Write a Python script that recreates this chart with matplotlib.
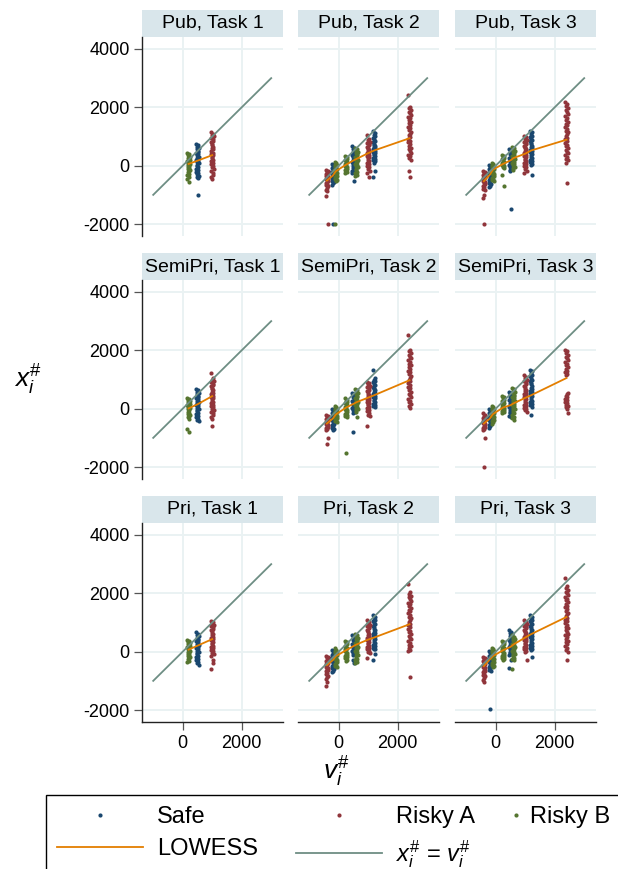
import matplotlib
matplotlib.use('Agg')
import matplotlib.pyplot as plt
from matplotlib.lines import Line2D
from matplotlib.patches import Rectangle

plt.rcParams['font.family'] = ['Liberation Sans', 'DejaVu Sans']
plt.rcParams['mathtext.fontset'] = 'custom'
plt.rcParams['mathtext.rm'] = 'Liberation Sans'
plt.rcParams['mathtext.it'] = 'Liberation Sans:italic'
plt.rcParams['axes.unicode_minus'] = False

# Stata s2color-like colours
NAVY = '#1A476F'
MAROON = '#90353B'
GREEN = '#55752F'
ORANGE = '#E37E00'
TEAL = '#6E8E84'
STRIP = '#D9E6EB'
GRID = '#EAF2F3'

row_names = ['Pub', 'SemiPri', 'Pri']
task_names = ['Task 1', 'Task 2', 'Task 3']
xticks = [0, 2000]
yticks = [-2000, 0, 2000, 4000]
diag_v = [-1000, 3000]

# small horizontal spread of the dots inside one option column
jitter = [-40, 25, -10, 45, -30, 10, 35, -45, 5, -20, 40, -5, 30, -35, 15, -25, 42, 0, -15, 20, -42, 28]

# ---- Pub ----
pub_t1_safe = [(500, [740, 700, 655, 610, 560, 520, 470, 430, 395, 350, 310, 270, 235, 190, 150, 110, 75, 30, -10, -55, -100, -150, -200, -250, -300, -345, -390, -430, -1000])]
pub_t1_riskyA = [(1000, [1140, 1095, 1050, 1000, 955, 900, 850, 800, 745, 700, 650, 600, 555, 500, 450, 400, 350, 300, 255, 200, 150, 100, 55, 0, -60, -120, -180, -250, -320, -390, -450])]
pub_t1_riskyB = [(200, [440, 400, 350, 310, 270, 240, 200, 165, 130, 100, 70, 35, 0, -30, -70, -110, -150, -190, -230, -280, -330, -390, -450, -550])]
pub_t1_lowess = ([200, 500, 1000], [60, 170, 360])

pub_t2_safe = [(-200, [60, 25, -10, -50, -90, -125, -165, -200, -240, -275, -315, -350, -390, -430, -470, -515, -560, -610, -650, -1990]),
               (500, [660, 615, 565, 520, 480, 440, 400, 360, 325, 285, 250, 210, 175, 140, 100, 60, 20, -20, -70, -120, -170, -220, -250, -510]),
               (1200, [1190, 1120, 1060, 1005, 950, 900, 855, 805, 760, 720, 680, 640, 600, 560, 520, 480, 440, 400, 360, 320, 280, 240, 195, 150, 90, -170, -375])]
pub_t2_riskyA = [(-400, [-135, -170, -205, -240, -270, -305, -340, -370, -405, -440, -470, -505, -540, -580, -620, -660, -705, -760, -820, -875, -1045, -1990]),
                 (1000, [1060, 920, 870, 825, 780, 740, 700, 655, 620, 580, 540, 500, 460, 420, 380, 340, 300, 250, 200, 150, 100, 50, 0, -60, -130, -190, -250, -400]),
                 (2400, [2420, 2020, 1960, 1905, 1850, 1790, 1735, 1680, 1620, 1560, 1505, 1450, 1390, 1330, 1275, 1220, 1160, 1100, 1040, 985, 920, 860, 800, 740, 680, 620, 560, 500, 440, 380, 320, 260, 200, -190, -400])]
pub_t2_riskyB = [(-100, [110, 80, 40, 10, -30, -70, -100, -140, -180, -220, -260, -300, -340, -380, -420, -460, -500, -530, -1990]),
                 (250, [340, 300, 260, 220, 180, 140, 110, 70, 30, 0, -40, -80, -120, -160, -210, -250]),
                 (600, [600, 560, 510, 470, 430, 390, 350, 310, 270, 230, 190, 150, 110, 70, 30, -10, -60, -110, -160, -210, -260, -310, -360])]
pub_t2_lowess = ([-400, -200, -100, 250, 500, 600, 1000, 1200, 2400], [-510, -340, -190, 35, 180, 230, 430, 520, 940])

pub_t3_safe = [(-200, [35, 0, -40, -80, -120, -160, -200, -240, -285, -325, -370, -410, -450, -490, -535, -580, -630, -680, -730]),
               (500, [570, 530, 485, 445, 400, 360, 320, 280, 240, 200, 160, 120, 80, 40, 0, -50, -100, -150, -190, -1500]),
               (1200, [1200, 1140, 1085, 1030, 980, 930, 880, 830, 785, 740, 690, 645, 600, 550, 500, 455, 410, 360, 310, 260, 210, 160, 110, 70, 35, -310])]
pub_t3_riskyA = [(-400, [-170, -205, -240, -280, -315, -350, -390, -430, -470, -510, -550, -590, -630, -680, -730, -790, -840, -990, -1100, -1990]),
                 (1000, [1020, 970, 920, 870, 825, 780, 735, 690, 645, 600, 555, 510, 465, 420, 380, 335, 290, 245, 200, 150, 100, 50, 0, -60, -120, -190, -250]),
                 (2400, [2190, 2120, 2050, 1980, 1900, 1830, 1760, 1700, 1640, 1570, 1500, 1440, 1380, 1320, 1260, 1200, 1140, 1080, 1020, 960, 900, 840, 780, 720, 660, 600, 540, 480, 420, 360, 300, 240, 180, 90, -590])]
pub_t3_riskyB = [(-100, [90, 55, 20, -20, -55, -95, -130, -170, -210, -250, -290, -330, -370, -410, -450, -490, -530]),
                 (250, [375, 335, 295, 260, 220, 180, 140, 100, 60, 20, -20, -55, -80, -310, -690]),
                 (600, [640, 595, 550, 505, 460, 420, 380, 340, 300, 260, 220, 180, 140, 100, 60, 20, -30, -80, -140])]
pub_t3_lowess = ([-400, -200, -100, 250, 500, 600, 1000, 1200, 2400], [-530, -310, -140, 60, 180, 260, 410, 520, 890])

# ---- SemiPri ----
semi_t1_safe = [(500, [670, 625, 580, 535, 490, 445, 400, 360, 320, 280, 240, 200, 160, 120, 80, 40, 0, -45, -90, -140, -190, -240, -290, -340, -390, -430])]
semi_t1_riskyA = [(1000, [1220, 1050, 1000, 955, 905, 860, 810, 765, 720, 675, 630, 585, 540, 495, 450, 405, 360, 315, 270, 225, 180, 135, 90, 45, 0, -50, -100, -160, -220, -280, -340, -600])]
semi_t1_riskyB = [(200, [380, 340, 300, 265, 225, 190, 150, 115, 80, 45, 10, -25, -60, -100, -140, -180, -220, -260, -300, -340, -680, -800])]
semi_t1_lowess = ([200, 500, 1000], [10, 150, 430])

semi_t2_safe = [(-200, [0, -40, -80, -120, -160, -200, -245, -290, -335, -380, -425, -470, -515, -560, -605, -650, -695, -740]),
                (500, [550, 510, 470, 430, 390, 350, 310, 270, 230, 190, 150, 110, 70, 30, -10, -55, -100, -165, -800]),
                (1200, [1320, 1050, 1000, 950, 900, 850, 805, 760, 715, 670, 625, 580, 535, 490, 445, 400, 355, 310, 265, 220, 175, 130, 90, 60])]
semi_t2_riskyA = [(-400, [-200, -235, -270, -305, -340, -375, -410, -445, -480, -515, -550, -590, -630, -670, -705, -740, -1000, -1225]),
                  (1000, [920, 875, 830, 785, 740, 695, 650, 605, 560, 515, 470, 425, 380, 335, 290, 245, 200, 155, 110, 65, 20, -30, -80, -140, -200, -255, -600]),
                  (2400, [2540, 2020, 1960, 1900, 1840, 1780, 1720, 1660, 1600, 1540, 1480, 1420, 1360, 1300, 1240, 1180, 1120, 1060, 1000, 940, 880, 820, 760, 700, 640, 580, 520, 460, 400, 340, 280, 220, 160, 100, 30])]
semi_t2_riskyB = [(-100, [100, 65, 30, -5, -40, -75, -110, -145, -180, -215, -250, -285, -320, -355, -390, -420, -450]),
                  (250, [350, 310, 270, 230, 190, 150, 110, 70, 30, -10, -50, -90, -130, -170, -210, -245, -280, -1510]),
                  (600, [670, 625, 580, 535, 490, 445, 400, 355, 310, 270, 230, 190, 150, 110, 70, 30, -10, -60, -110, -300])]
semi_t2_lowess = ([-400, -200, -100, 250, 500, 600, 1000, 1200, 2400], [-510, -340, -200, 40, 165, 220, 380, 460, 975])

semi_t3_safe = [(-200, [0, -40, -80, -120, -160, -200, -240, -285, -330, -375, -420, -465, -510, -555, -605, -655]),
                (500, [575, 530, 490, 450, 410, 370, 330, 290, 250, 210, 170, 130, 90, 50, 10, -30, -75, -120, -165, -210, -255, -300]),
                (1200, [1340, 1280, 1220, 1160, 1105, 1050, 995, 940, 885, 830, 775, 720, 665, 610, 555, 500, 445, 390, 335, 280, 225, 170, 115, 60, -200])]
semi_t3_riskyA = [(-400, [-165, -200, -235, -270, -305, -340, -380, -420, -460, -500, -540, -580, -620, -660, -700, -740, -1000, -1990]),
                  (1000, [1145, 1090, 1040, 990, 940, 890, 840, 790, 740, 690, 640, 590, 540, 490, 440, 390, 340, 290, 240, 190, 140, 90, 40, -10, -60, -110]),
                  (2400, [2020, 1960, 1900, 1840, 1780, 1720, 1660, 1600, 1540, 1480, 1420, 1360, 1300, 1250, 1200, 1145, 540, 490, 440, 390, 340, 290, 240, 190, 140, 90, 45, 0, -165])]
semi_t3_riskyB = [(-100, [100, 60, 20, -20, -60, -100, -140, -180, -220, -260, -300, -340, -380, -420, -465, -510]),
                  (250, [430, 390, 350, 310, 270, 230, 190, 150, 110, 70, 30, -10, -50, -90, -130, -165]),
                  (600, [720, 670, 620, 575, 530, 485, 440, 395, 350, 305, 260, 215, 170, 125, 80, 35, -10, -60, -110, -160, -220, -280, -330, -390])]
semi_t3_lowess = ([-400, -200, -100, 250, 500, 600, 1000, 1200, 2400], [-510, -340, -190, 40, 120, 180, 370, 460, 1050])

# ---- Pri ----
pri_t1_safe = [(500, [660, 615, 570, 525, 480, 440, 400, 360, 320, 280, 240, 200, 160, 120, 80, 40, 0, -45, -90, -140, -190, -240, -290, -340, -395, -450])]
pri_t1_riskyA = [(1000, [1060, 1015, 970, 925, 880, 835, 790, 745, 700, 655, 610, 565, 520, 475, 430, 385, 340, 295, 250, 205, 160, 115, 70, 25, -30, -80, -150, -280, -400, -610])]
pri_t1_riskyB = [(200, [400, 360, 320, 285, 250, 215, 180, 145, 110, 75, 40, 5, -30, -65, -100, -140, -180, -220, -260, -310, -360])]
pri_t1_lowess = ([200, 500, 1000], [70, 205, 430])

pri_t2_safe = [(-200, [50, 10, -30, -70, -110, -150, -190, -230, -270, -310, -350, -390, -430, -475, -520, -565, -610, -650, -690]),
               (500, [560, 520, 480, 440, 400, 360, 320, 280, 240, 200, 160, 120, 80, 40, 0, -40, -80, -120, -290, -400]),
               (1200, [1245, 1190, 1140, 1090, 1040, 990, 940, 890, 840, 790, 740, 690, 640, 590, 540, 490, 440, 390, 340, 290, 240, 190, 140, 100, 75, -85, -290])]
pri_t2_riskyA = [(-400, [-150, -190, -230, -270, -310, -350, -390, -430, -470, -510, -550, -590, -630, -675, -720, -770, -820, -880, -950, -1030, -1175]),
                 (1000, [1075, 1025, 975, 930, 885, 840, 795, 750, 705, 660, 615, 570, 525, 480, 435, 390, 345, 300, 255, 210, 165, 120, 75, 30, -10, -40, -200]),
                 (2400, [2325, 2040, 1980, 1920, 1860, 1800, 1740, 1680, 1620, 1560, 1500, 1440, 1380, 1320, 1260, 1200, 1140, 1080, 1020, 960, 900, 840, 780, 720, 660, 600, 540, 480, 420, 360, 300, 240, 180, 120, 60, 15, -880])]
pri_t2_riskyB = [(-100, [110, 70, 30, -10, -50, -90, -130, -170, -210, -250, -290, -330, -370, -410, -450, -490, -520]),
                 (250, [370, 330, 290, 250, 210, 170, 130, 90, 50, 10, -30, -70, -110, -150, -190, -230, -280, -325]),
                 (600, [620, 575, 530, 485, 440, 395, 350, 305, 260, 215, 170, 125, 80, 35, -10, -55, -100, -150, -200, -250, -300, -350, -400])]
pri_t2_lowess = ([-400, -200, -100, 250, 500, 600, 1000, 1200, 2400], [-460, -290, -155, 50, 190, 245, 415, 485, 940])

pri_t3_safe = [(-200, [20, -20, -60, -100, -140, -180, -220, -265, -310, -355, -400, -445, -490, -535, -580, -615, -650, -1970]),
               (500, [730, 685, 640, 595, 550, 505, 460, 415, 370, 325, 280, 240, 200, 160, 120, 80, 40, 0, -40, -80, -120, -290, -570]),
               (1200, [1245, 1190, 1140, 1090, 1040, 990, 940, 890, 840, 790, 740, 690, 640, 590, 540, 490, 440, 390, 340, 290, 240, 190, 140, 95, 50, -175])]
pri_t3_riskyA = [(-400, [-175, -215, -255, -295, -335, -375, -415, -455, -495, -535, -575, -615, -660, -705, -750, -800, -850, -900, -960, -1030]),
                 (1000, [1075, 1030, 985, 940, 895, 850, 805, 760, 715, 670, 625, 580, 535, 490, 445, 400, 355, 310, 265, 220, 175, 130, 85, 40, -5, -270]),
                 (2400, [2530, 2235, 2175, 2115, 2055, 1995, 1935, 1875, 1815, 1755, 1695, 1635, 1575, 1515, 1455, 1395, 1335, 1275, 1215, 1155, 1095, 1035, 975, 915, 855, 795, 735, 675, 615, 555, 495, 435, 375, 315, 255, 195, 135, 70, 0, -270])]
pri_t3_riskyB = [(-100, [140, 100, 60, 20, -20, -60, -100, -140, -180, -220, -260, -300, -340, -380, -420, -460, -500, -540]),
                 (250, [370, 330, 290, 250, 210, 170, 130, 90, 50, 10, -30, -70, -110, -150, -190, -230, -260, -290]),
                 (600, [560, 520, 480, 440, 400, 360, 320, 280, 240, 200, 160, 120, 80, 40, 0, -40, -80, -120, -160, -200, -245, -290, -610])]
pri_t3_lowess = ([-400, -200, -100, 250, 500, 600, 1000, 1200, 2400], [-495, -265, -155, 50, 165, 245, 485, 600, 1190])

panels = [
    [(pub_t1_safe, pub_t1_riskyA, pub_t1_riskyB, pub_t1_lowess),
     (pub_t2_safe, pub_t2_riskyA, pub_t2_riskyB, pub_t2_lowess),
     (pub_t3_safe, pub_t3_riskyA, pub_t3_riskyB, pub_t3_lowess)],
    [(semi_t1_safe, semi_t1_riskyA, semi_t1_riskyB, semi_t1_lowess),
     (semi_t2_safe, semi_t2_riskyA, semi_t2_riskyB, semi_t2_lowess),
     (semi_t3_safe, semi_t3_riskyA, semi_t3_riskyB, semi_t3_lowess)],
    [(pri_t1_safe, pri_t1_riskyA, pri_t1_riskyB, pri_t1_lowess),
     (pri_t2_safe, pri_t2_riskyA, pri_t2_riskyB, pri_t2_lowess),
     (pri_t3_safe, pri_t3_riskyA, pri_t3_riskyB, pri_t3_lowess)],
]


def draw_clusters(ax, clusters, color):
    for v, ys in clusters:
        xs = [v + jitter[k % len(jitter)] for k in range(len(ys))]
        ax.plot(xs, ys, 'o', color=color, markersize=3.0, markeredgewidth=0, zorder=3)


W, H = 618.0, 869.0
fig = plt.figure(figsize=(W / 100, H / 100), dpi=100)

col_left = [142, 298, 455]
row_top = [37, 280, 523]
pw, ph = 141, 199
strip_h = 27

for r in range(3):
    for c in range(3):
        ax = fig.add_axes([col_left[c] / W, 1 - (row_top[r] + ph) / H, pw / W, ph / H])
        safe, riskyA, riskyB, low = panels[r][c]
        draw_clusters(ax, safe, NAVY)
        draw_clusters(ax, riskyA, MAROON)
        draw_clusters(ax, riskyB, GREEN)
        ax.plot(low[0], low[1], color=ORANGE, lw=1.3, zorder=4)
        ax.plot(diag_v, diag_v, color=TEAL, lw=1.3, zorder=5)

        ax.set_xlim(-1380, 3400)
        ax.set_ylim(-2410, 4410)
        ax.set_xticks(xticks)
        ax.set_yticks(yticks)
        ax.grid(True, color=GRID, lw=1.4, zorder=0)
        ax.set_axisbelow(True)
        for s in ['top', 'right']:
            ax.spines[s].set_visible(False)
        ax.spines['left'].set_visible(c == 0)
        ax.spines['bottom'].set_visible(r == 2)
        for s in ['left', 'bottom']:
            ax.spines[s].set_linewidth(1.0)
            ax.spines[s].set_color('#222222')
        ax.tick_params(axis='y', length=6 if c == 0 else 0, width=0.9, color='#555555',
                       labelleft=(c == 0), labelsize=13, pad=3)
        ax.tick_params(axis='x', length=6 if r == 2 else 0, width=0.9, color='#555555',
                       labelbottom=(r == 2), labelsize=13, pad=3)

        # strip title
        ax.add_patch(Rectangle((0, 1), 1, strip_h / ph, transform=ax.transAxes,
                               facecolor=STRIP, edgecolor='none', clip_on=False))
        ax.text(0.5, 1 + strip_h / 2 / ph, row_names[r] + ', ' + task_names[c],
                transform=ax.transAxes, ha='center', va='center', fontsize=14)

fig.text(28 / W, 1 - 380 / H, r'$x_i^{\#}$', fontsize=19, ha='center', va='center')
fig.text(336 / W, 1 - 772 / H, r'$v_i^{\#}$', fontsize=19, ha='center', va='center')

# legend frame
fig.patches.append(Rectangle((46 / W, -0.01), 0.95, 1 - 795 / H + 0.01, transform=fig.transFigure,
                             facecolor='white', edgecolor='black', lw=1.0))

h_safe = Line2D([], [], marker='o', ls='none', color=NAVY, markersize=3.0, markeredgewidth=0)
h_riskA = Line2D([], [], marker='o', ls='none', color=MAROON, markersize=3.0, markeredgewidth=0)
h_riskB = Line2D([], [], marker='o', ls='none', color=GREEN, markersize=3.0, markeredgewidth=0)
h_low = Line2D([], [], color=ORANGE, lw=1.3)
h_diag = Line2D([], [], color=TEAL, lw=1.3)

fig.legend(handles=[h_safe, h_low, h_riskA, h_diag],
           labels=['Safe', 'LOWESS', 'Risky A', r'$x_i^{\#}$ = $v_i^{\#}$'],
           ncol=2, loc='upper left', bbox_to_anchor=(57 / W, 1 - 806 / H),
           frameon=False, fontsize=17, handlelength=3.65, handletextpad=0.6,
           columnspacing=1.6, borderpad=0, borderaxespad=0, labelspacing=0.42)
fig.legend(handles=[h_riskB], labels=['Risky B'],
           loc='upper left', bbox_to_anchor=(510 / W, 1 - 806 / H),
           frameon=False, fontsize=17, handlelength=0.5, handletextpad=0.35,
           borderpad=0, borderaxespad=0)

fig.savefig('out.png', dpi=100)
